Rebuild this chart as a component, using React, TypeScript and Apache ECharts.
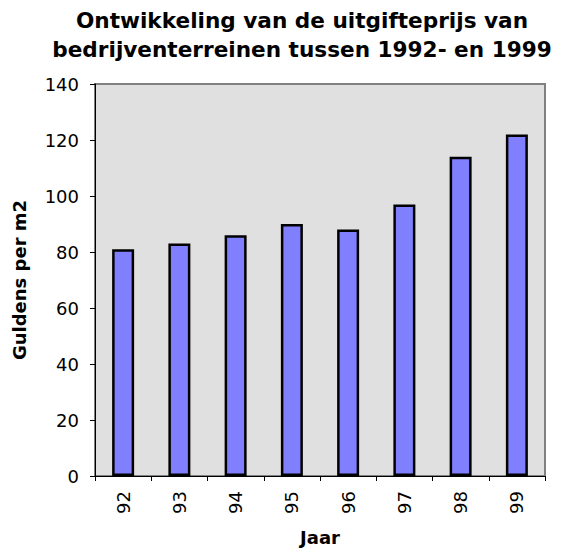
import React, { useEffect, useRef } from "react";
import * as echarts from "echarts";

const titleLines = ["Ontwikkeling van de uitgifteprijs van", "bedrijventerreinen tussen 1992- en 1999"];
const categories = ["92", "93", "94", "95", "96", "97", "98", "99"];
const values = [81, 83, 86, 90, 88, 97, 114, 122];
const yAxisName = "Guldens per m2";
const xAxisName = "Jaar";

const FONT = "DejaVu Sans";

export default function App() {
  const ref = useRef<HTMLDivElement>(null);
  useEffect(() => {
    if (!ref.current) return;
    const chart = echarts.init(ref.current, null, { renderer: "svg" });
    chart.setOption({
      animation: false,
      backgroundColor: "#ffffff",
      title: {
        text: titleLines.join("\n"),
        left: 302,
        textAlign: "center",
        top: 6,
        padding: 0,
        textStyle: {
          fontFamily: FONT,
          fontSize: 21.6,
          fontWeight: "bold",
          color: "#000",
          lineHeight: 29,
        },
      },
      grid: {
        left: 95,
        right: 17,
        top: 84,
        bottom: 78,
        show: true,
        backgroundColor: "#E0E0E0",
        borderColor: "#808080",
        borderWidth: 2,
      },
      xAxis: {
        type: "category",
        data: categories,
        name: xAxisName,
        nameLocation: "middle",
        nameGap: 52,
        nameTextStyle: { fontFamily: FONT, fontSize: 18, fontWeight: "bold", color: "#000" },
        axisLine: { show: true, lineStyle: { color: "#000", width: 1 } },
        axisTick: { show: true, length: 5, lineStyle: { color: "#000" } },
        axisLabel: { rotate: 90, margin: 15, fontFamily: FONT, fontSize: 18, color: "#000" },
        splitLine: { show: false },
      },
      yAxis: {
        type: "value",
        min: 0,
        max: 140,
        interval: 20,
        name: yAxisName,
        nameLocation: "middle",
        nameRotate: 90,
        nameGap: 67,
        nameTextStyle: { fontFamily: FONT, fontSize: 18, fontWeight: "bold", color: "#000" },
        axisLine: { show: true, lineStyle: { color: "#000", width: 1 } },
        axisTick: { show: true, length: 5, lineStyle: { color: "#000" } },
        axisLabel: { margin: 16, fontFamily: FONT, fontSize: 18, color: "#000" },
        splitLine: { show: false },
      },
      series: [
        {
          type: "bar",
          data: values,
          barWidth: 22,
          itemStyle: { color: "#8080FF", borderColor: "#000", borderWidth: 2.5 },
        },
      ],
    });
    return () => chart.dispose();
  }, []);
  return <div ref={ref} style={{ width: 562, height: 554, position: "absolute", left: 0, top: 0 }} />;
}
